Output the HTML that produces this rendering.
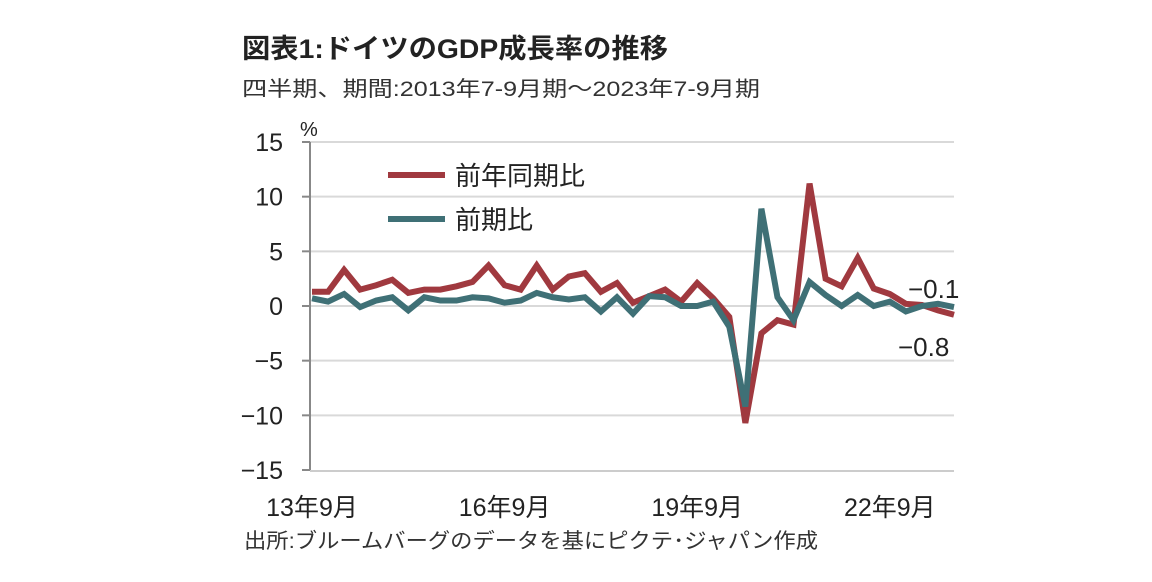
<!DOCTYPE html>
<html><head><meta charset="utf-8"><style>
body{margin:0;background:#fff;width:1152px;height:577px;overflow:hidden;font-family:"Liberation Sans","Noto Sans CJK JP",sans-serif;}
</style></head><body>
<svg width="1152" height="577" style="font-family:'Liberation Sans','Noto Sans CJK JP',sans-serif">
<text x="242" y="58" font-size="27" font-weight="bold" fill="#222" textLength="426" lengthAdjust="spacingAndGlyphs">図表1:ドイツのGDP成長率の推移</text>
<text x="242" y="96" font-size="21" fill="#333" textLength="518" lengthAdjust="spacingAndGlyphs">四半期、期間:2013年7-9月期～2023年7-9月期</text>
<text x="300" y="136" font-size="20" fill="#222">%</text>
<g id="grid"></g>
<g id="axes"></g>
<g id="series"></g>
<g>
<line x1="388" y1="175" x2="445" y2="175" stroke="#a0393f" stroke-width="6"/>
<text x="455" y="185" font-size="26" fill="#222">前年同期比</text>
<line x1="388" y1="219" x2="445" y2="219" stroke="#3f7076" stroke-width="6"/>
<text x="455" y="229" font-size="26" fill="#222">前期比</text>
</g>
<text x="908" y="298" font-size="26" fill="#222">−0.1</text>
<text x="898" y="356" font-size="26" fill="#222">−0.8</text>
<text x="244" y="548" font-size="21" fill="#333" textLength="574" lengthAdjust="spacingAndGlyphs">出所:ブルームバーグのデータを基にピクテ･ジャパン作成</text>
</svg>
<script>
const yoy=[1.3,1.3,3.3,1.5,1.9,2.4,1.2,1.5,1.5,1.8,2.2,3.7,1.9,1.5,3.7,1.5,2.7,3.0,1.3,2.1,0.3,0.9,1.5,0.4,2.1,0.7,-1.0,-10.7,-2.5,-1.3,-1.7,11.2,2.5,1.8,4.4,1.6,1.1,0.2,0.1,-0.4,-0.8];
const qoq=[0.7,0.4,1.1,-0.1,0.5,0.8,-0.4,0.8,0.5,0.5,0.8,0.7,0.3,0.5,1.2,0.8,0.6,0.8,-0.5,0.8,-0.7,0.9,0.8,0.0,0.0,0.4,-1.9,-9.2,8.9,0.8,-1.3,2.2,1.0,0.0,1.0,0.0,0.4,-0.5,0.0,0.2,-0.1];
const yTicks=[15,10,5,0,-5,-10,-15];
const xLabels=[[0,"13年9月"],[12,"16年9月"],[24,"19年9月"],[36,"22年9月"]];
const ns="http://www.w3.org/2000/svg";
const X=i=>312+i*(954-312)/40;
const Y=v=>306-v*(470-142)/30;
function mk(t,a,p){const e=document.createElementNS(ns,t);for(const k in a)e.setAttribute(k,a[k]);p.appendChild(e);return e;}
const grid=document.getElementById('grid'),axes=document.getElementById('axes'),ser=document.getElementById('series');
yTicks.forEach(v=>{
 if(v>-15){const g=mk('line',{x1:310,x2:954,y1:Y(v),y2:Y(v),stroke:'#d9d9d9','stroke-width':2},grid);
 
 }
 const tk=mk('line',{x1:302,x2:310,y1:Y(v),y2:Y(v),stroke:'#888','stroke-width':2},axes);
 
 
 const t=mk('text',{x:283,y:Y(v)+9,'font-size':25,'text-anchor':'end',fill:'#222'},axes);
 t.textContent=v<0?'−'+(-v):String(v);
 
 
});
const ya=mk('line',{x1:310,x2:310,y1:142,y2:471,stroke:'#888','stroke-width':2},axes);


const xa=mk('line',{x1:310,x2:954,y1:471,y2:471,stroke:'#ccc','stroke-width':2},axes);


xLabels.forEach(([i,s])=>{
 const t=mk('text',{x:X(i)-0,y:516,'font-size':25,'text-anchor':'middle',fill:'#222'},axes);
 t.textContent=s;
 
 
});
function line(d,c,n){
 const p=mk('polyline',{points:d.map((v,i)=>X(i)+','+Y(v)).join(' '),fill:'none',stroke:c,'stroke-width':6,'stroke-linejoin':'miter','stroke-miterlimit':3},ser);
 
 
}
line(yoy,'#a0393f','line-yoy');
line(qoq,'#3f7076','line-qoq');
</script>
</body></html>
